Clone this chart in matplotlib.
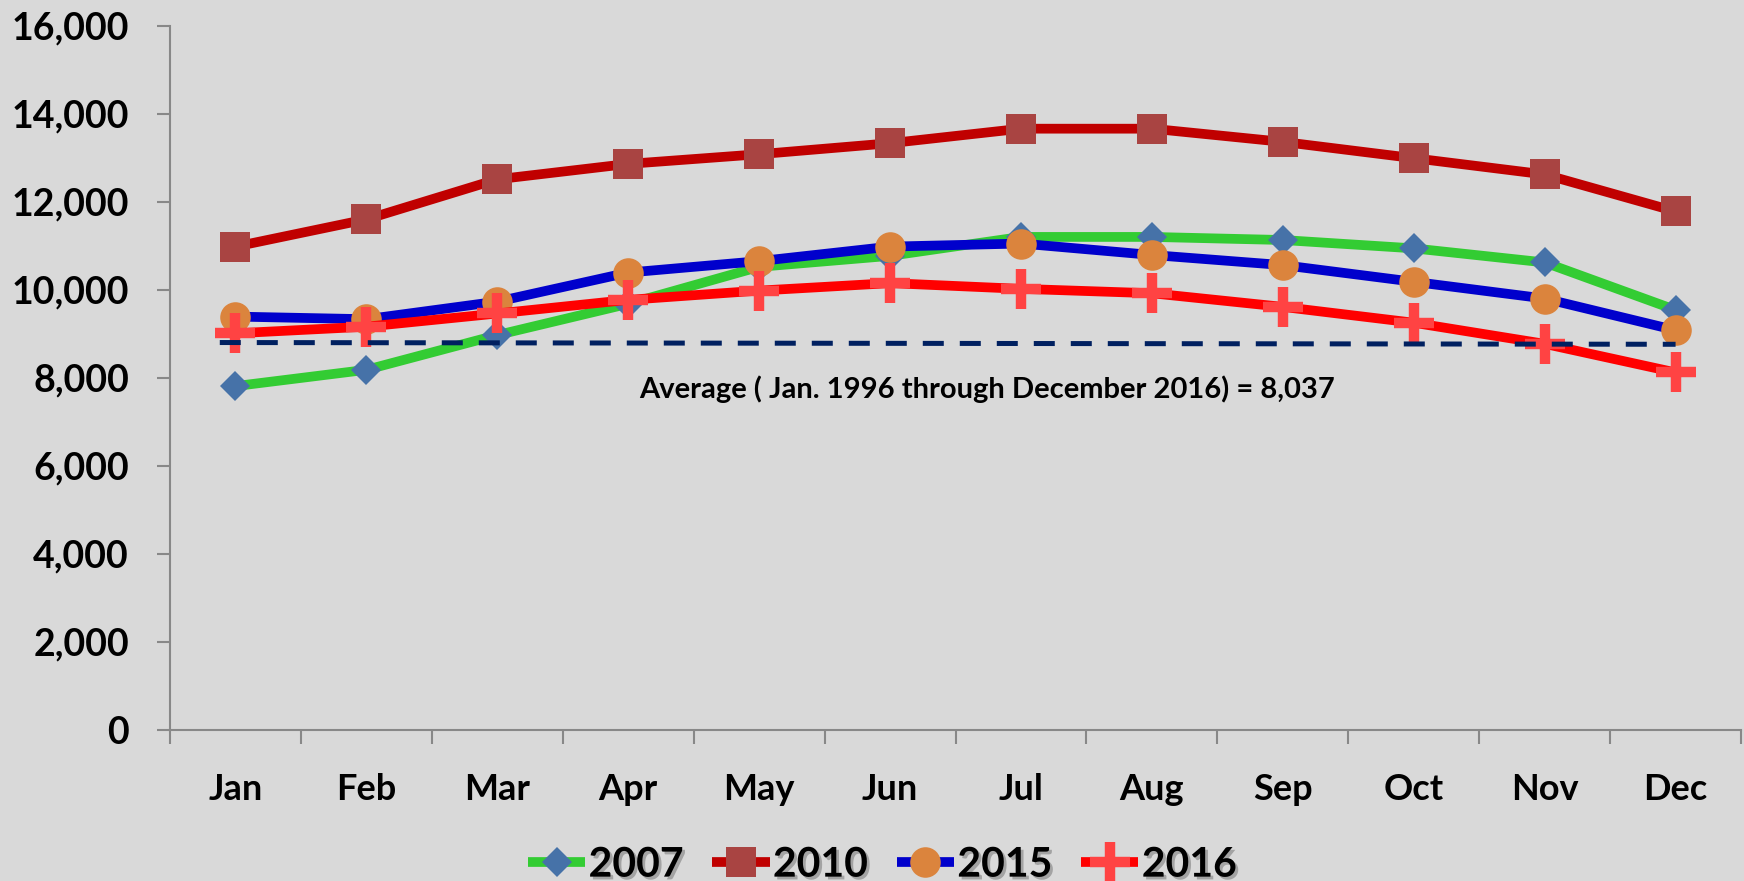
import matplotlib
matplotlib.use("Agg")
import matplotlib.pyplot as plt
import matplotlib.patheffects as pe
from matplotlib.ticker import FixedLocator, FuncFormatter

plt.rcParams["font.family"] = ["Lato", "DejaVu Sans"]
plt.rcParams["font.weight"] = "bold"

# ------------------------------------------------------------------
# data
# ------------------------------------------------------------------
months = ["Jan", "Feb", "Mar", "Apr", "May", "Jun",
          "Jul", "Aug", "Sep", "Oct", "Nov", "Dec"]

y2007 = [7810, 8180, 8970, 9680, 10520, 10770, 11200, 11200, 11130, 10940, 10620, 9540]
y2010 = [10980, 11600, 12510, 12860, 13080, 13330, 13660, 13660, 13360, 12990, 12620, 11780]
y2015 = [9390, 9330, 9730, 10390, 10650, 10980, 11050, 10790, 10560, 10180, 9800, 9080]
y2016 = [9010, 9160, 9460, 9770, 9980, 10150, 10020, 9920, 9610, 9250, 8770, 8120]

# dashed "average" line, drawn from just left of Jan to Dec
avg_x = [-0.12, 11]
avg_y = [8800, 8760]
avg_label = "Average ( Jan. 1996 through December 2016) = 8,037"

BG = "#D9D9D9"
AXIS_GRAY = "#888888"

fig = plt.figure(figsize=(17.44, 8.81), dpi=100, facecolor=BG)
ax = fig.add_axes([0.0975, 0.1717, 0.9008, 0.7991])
ax.set_facecolor(BG)

x = list(range(len(months)))
line_kw = dict(linewidth=7, solid_capstyle="butt", solid_joinstyle="round")

ax.plot(x, y2007, color="#33CC33", marker="D", markersize=15.5,
        markerfacecolor="#4672A8", markeredgewidth=0, label="2007", **line_kw)
ax.plot(x, y2010, color="#C00000", marker="s", markersize=22,
        markerfacecolor="#A94442", markeredgewidth=0, label="2010", **line_kw)
ax.plot(x, y2015, color="#0000CC", marker="o", markersize=22,
        markerfacecolor="#DB843D", markeredgewidth=0, label="2015", **line_kw)
ax.plot(x, y2016, color="#FF0000", marker="+", markersize=29,
        markeredgecolor="#FF4343", markeredgewidth=7.5, label="2016", **line_kw)

ax.plot(avg_x, avg_y, color="#002060", linewidth=3.6,
        linestyle=(0, (4.2, 3.2)), dash_capstyle="butt", zorder=5)

ax.text(5.74, 7740, avg_label, ha="center", va="center",
        fontsize=21, fontweight="bold", color="black")

# axes
ax.set_xlim(-0.5, 11.5)
ax.set_ylim(0, 16000)

ax.set_xticks(x)
ax.set_xticklabels(months)
ax.xaxis.set_minor_locator(FixedLocator([i - 0.5 for i in range(13)]))
ax.tick_params(axis="x", which="major", length=0, pad=31,
               labelsize=26, labelcolor="black")
ax.tick_params(axis="x", which="minor", length=10, width=1.5,
               color=AXIS_GRAY, direction="out")

ax.set_yticks(range(0, 16001, 2000))
ax.yaxis.set_major_formatter(FuncFormatter(lambda v, p: f"{int(v):,}"))
ax.tick_params(axis="y", length=9.5, width=1.5, color=AXIS_GRAY,
               pad=20, labelsize=27, labelcolor="black")

for side in ["top", "right"]:
    ax.spines[side].set_visible(False)
for side in ["left", "bottom"]:
    ax.spines[side].set_color(AXIS_GRAY)
    ax.spines[side].set_linewidth(1.5)

leg = fig.legend(loc="center", bbox_to_anchor=(0.506, 0.018), ncol=4,
                 frameon=False, fontsize=29.5, handlelength=1.4,
                 handletextpad=0.08, columnspacing=0.7)
for t in leg.get_texts():
    t.set_fontweight("bold")
    t.set_path_effects([pe.SimplePatchShadow(offset=(2, -2), shadow_rgbFace="#7F7F7F", alpha=0.6),
                        pe.Normal()])

fig.savefig("out.png", dpi=100, facecolor=BG)
